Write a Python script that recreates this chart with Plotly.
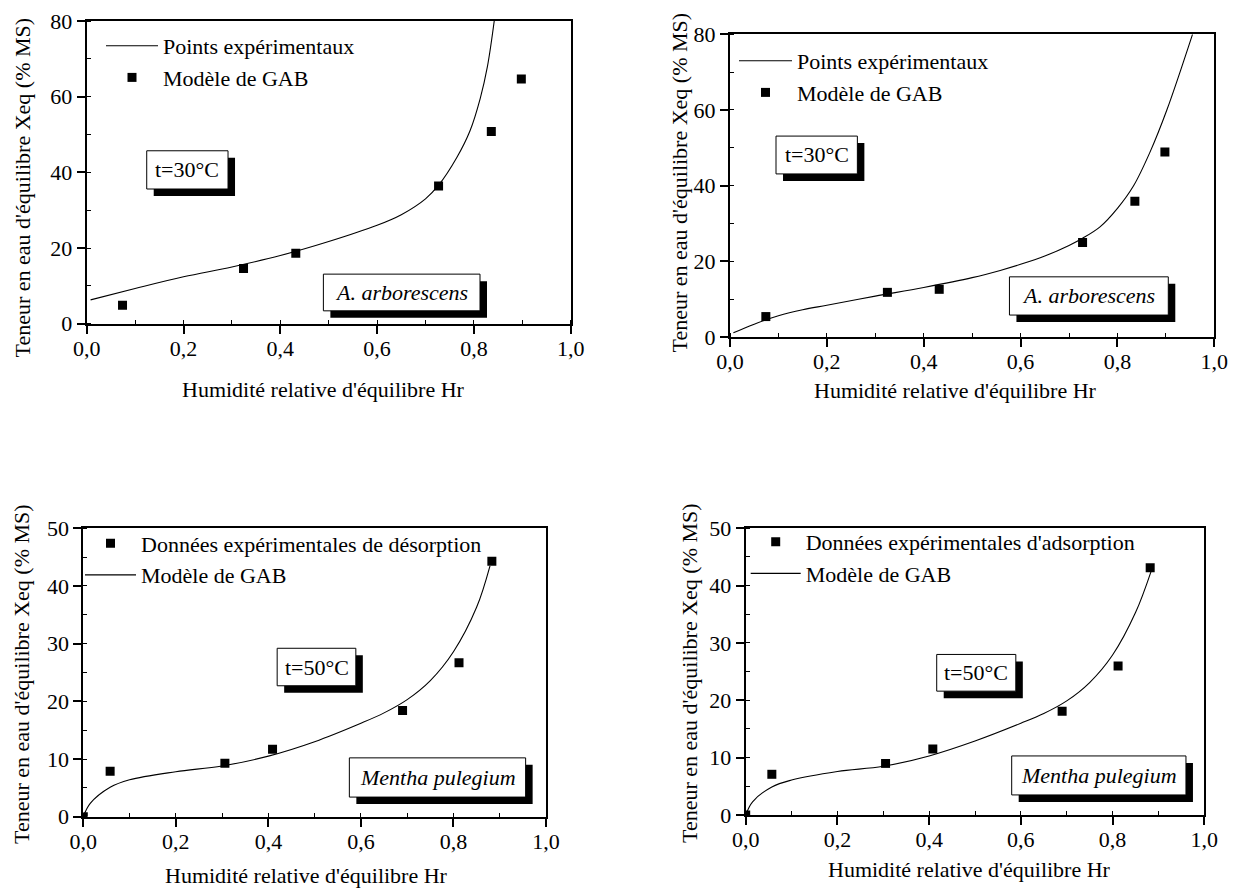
import plotly.graph_objects as go

W, H = 1245, 889
OFF = 8  # page offset of the figure inside the browser window
FONT = "Liberation Serif, Times New Roman, serif"
FS = 22

# ---------------- data ----------------
# Panel 1 : A. arborescens, t=30°C (first)
p1_pts_hr = [0.074, 0.324, 0.432, 0.727, 0.836, 0.898]
p1_pts_x = [4.9, 14.6, 18.6, 36.4, 50.8, 64.7]
p1_cur_hr = [0.008, 0.1, 0.2, 0.3, 0.4, 0.5, 0.6, 0.65, 0.7, 0.727, 0.765, 0.792, 0.813, 0.828, 0.842]
p1_cur_x = [6.3, 9.3, 12.4, 15.0, 18.0, 21.7, 26.0, 28.8, 33.0, 36.6, 44.0, 51.0, 59.5, 68.0, 80.0]

# Panel 2 : A. arborescens, t=30°C (second)
p2_pts_hr = [0.074, 0.325, 0.432, 0.728, 0.836, 0.898]
p2_pts_x = [5.4, 11.8, 12.6, 25.0, 35.9, 48.9]
p2_cur_hr = [0.007, 0.05, 0.1, 0.15, 0.2, 0.3, 0.4, 0.5, 0.558, 0.6, 0.65, 0.7, 0.728, 0.764, 0.8, 0.833, 0.867, 0.902, 0.955]
p2_cur_x = [1.1, 3.4, 5.6, 7.2, 8.4, 10.8, 13.1, 15.7, 17.6, 19.2, 21.4, 24.2, 26.1, 29.1, 34.0, 39.9, 48.8, 60.0, 80.0]

# Panel 3 : Mentha pulegium, désorption, t=50°C
p3_pts_hr = [0.0, 0.058, 0.306, 0.409, 0.690, 0.812, 0.883]
p3_pts_x = [0.0, 7.9, 9.25, 11.7, 18.4, 26.7, 44.3]
p3_cur_hr = [0.0, 0.015, 0.058, 0.1, 0.2, 0.3, 0.4, 0.5, 0.6, 0.65, 0.7, 0.75, 0.8, 0.85, 0.879]
p3_cur_x = [0.0, 2.3, 5.1, 6.4, 7.8, 8.8, 10.5, 13.0, 16.2, 18.0, 20.3, 23.6, 28.6, 36.3, 43.5]

# Panel 4 : Mentha pulegium, adsorption, t=50°C
p4_pts_hr = [0.0, 0.057, 0.305, 0.408, 0.690, 0.812, 0.882]
p4_pts_x = [0.0, 7.1, 9.0, 11.5, 18.1, 26.0, 43.1]
p4_cur_hr = [0.0, 0.015, 0.057, 0.1, 0.2, 0.3, 0.4, 0.5, 0.6, 0.65, 0.7, 0.75, 0.8, 0.85, 0.884]
p4_cur_x = [0.0, 2.3, 4.9, 6.1, 7.6, 8.5, 10.3, 12.9, 16.0, 17.7, 19.9, 23.1, 27.9, 35.3, 42.5]

x_title = "Humidité relative d'équilibre Hr"
y_title = "Teneur en eau d'équilibre Xeq (% MS)"

# ---------------- layout geometry (window pixels) ----------------
panels = [
    dict(xd=(86.7, 570.7), yd=(21.0, 323.7), yr=(0, 80), ydt=20,
         legend=dict(s=101, top=25.0, iw=52),
         xt=(323.5, 389), yt=(22, 187.5),
         boxes=[("t=30°C", (0.124, 0.292, 35.6, 45.7), False),
                ("A. arborescens", (0.489, 0.8126, 3.4, 13.1), True)]),
    dict(xd=(730.0, 1214.3), yd=(34.3, 337.0), yr=(0, 80), ydt=20,
         legend=dict(s=734, top=40.0, iw=53),
         xt=(955.5, 391), yt=(679, 182.5),
         boxes=[("t=30°C", (0.095, 0.263, 43.1, 53.1), False),
                ("A. arborescens", (0.577, 0.905, 5.8, 15.9), True)]),
    dict(xd=(83.3, 546.0), yd=(528.3, 816.7), yr=(0, 50), ydt=10,
         legend=dict(s=80, top=522.5, iw=51),
         xt=(306, 875), yt=(21, 674),
         boxes=[("t=50°C", (0.419, 0.589, 22.7, 29.2), False),
                ("Mentha pulegium", (0.575, 0.956, 3.4, 10.2), True)]),
    dict(xd=(745.7, 1204.3), yd=(528.3, 815.0), yr=(0, 50), ydt=10,
         legend=dict(s=745.7, top=521.0, iw=50),
         xt=(969.7, 869), yt=(689, 673),
         boxes=[("t=50°C", (0.4165, 0.589, 21.6, 28.0), False),
                ("Mentha pulegium", (0.58, 0.960, 3.5, 10.3), True)]),
]

series = [
    [("line", p1_cur_hr, p1_cur_x, "Points expérimentaux"),
     ("pts", p1_pts_hr, p1_pts_x, "Modèle de GAB")],
    [("line", p2_cur_hr, p2_cur_x, "Points expérimentaux"),
     ("pts", p2_pts_hr, p2_pts_x, "Modèle de GAB")],
    [("pts", p3_pts_hr, p3_pts_x, "Données expérimentales de désorption"),
     ("line", p3_cur_hr, p3_cur_x, "Modèle de GAB")],
    [("pts", p4_pts_hr, p4_pts_x, "Données expérimentales d'adsorption"),
     ("line", p4_cur_hr, p4_cur_x, "Modèle de GAB")],
]


def px_x(p):
    return (p - OFF) / W


def px_y(p):
    return 1 - (p - OFF) / H


fig = go.Figure()
shapes = []
annotations = []
layout = {}

SH = 7  # shadow offset px

for i, (pan, ser) in enumerate(zip(panels, series)):
    n = i + 1
    xa = "x" if n == 1 else f"x{n}"
    ya = "y" if n == 1 else f"y{n}"
    lg = "legend" if n == 1 else f"legend{n}"
    for kind, xs, ys, name in ser:
        if kind == "line":
            fig.add_trace(go.Scatter(x=xs, y=ys, mode="lines", name=name,
                                     line=dict(color="black", width=1.1, shape="spline", smoothing=1.0),
                                     xaxis=xa, yaxis=ya, legend=lg))
        else:
            fig.add_trace(go.Scatter(x=xs, y=ys, mode="markers", name=name,
                                     marker=dict(symbol="square", size=9, color="black"),
                                     xaxis=xa, yaxis=ya, legend=lg))
    x0p, x1p = pan["xd"]
    y0p, y1p = pan["yd"]
    axcommon = dict(showline=True, linecolor="black", linewidth=2, mirror=True,
                    ticks="outside", ticklen=8, tickwidth=1.5, tickcolor="black",
                    showgrid=False, zeroline=False, automargin=False,
                    tickfont=dict(family=FONT, size=FS, color="black"))
    layout["xaxis" if n == 1 else f"xaxis{n}"] = dict(
        domain=[px_x(x0p), px_x(x1p)], range=[0, 1], dtick=0.2, tick0=0, tickformat=".1f",
        anchor=ya, ticklabelstandoff=-4,
        minor=dict(ticks="inside", ticklen=4, dtick=0.1, tickcolor="black", tickwidth=1.2),
        **axcommon)
    layout["yaxis" if n == 1 else f"yaxis{n}"] = dict(
        domain=[px_y(y1p), px_y(y0p)], range=list(pan["yr"]), dtick=pan["ydt"], tick0=0,
        anchor=xa,
        minor=dict(ticks="inside", ticklen=4, dtick=pan["ydt"] / 2, tickcolor="black", tickwidth=1.2),
        **axcommon)
    L = pan["legend"]
    layout[lg] = dict(x=px_x(L["s"]), y=px_y(L["top"]), xanchor="left", yanchor="top",
                      bgcolor="rgba(0,0,0,0)", borderwidth=0, itemwidth=L["iw"],
                      font=dict(family=FONT, size=FS, color="black"), tracegroupgap=0)
    # axis titles
    annotations.append(dict(text=x_title, xref="paper", yref="paper",
                            x=px_x(pan["xt"][0]), y=px_y(pan["xt"][1]), showarrow=False,
                            xanchor="center", yanchor="middle",
                            font=dict(family=FONT, size=FS, color="black")))
    annotations.append(dict(text=y_title, xref="paper", yref="paper", textangle=-90,
                            x=px_x(pan["yt"][0]), y=px_y(pan["yt"][1]), showarrow=False,
                            xanchor="center", yanchor="middle",
                            font=dict(family=FONT, size=FS, color="black")))
    # label boxes with drop shadow
    dx = SH / (x1p - x0p) * 1.0
    dy = SH / (y1p - y0p) * (pan["yr"][1] - pan["yr"][0])
    for text, (bx0, bx1, by0, by1), ital in pan["boxes"]:
        shapes.append(dict(type="rect", xref=xa, yref=ya, x0=bx0 + dx, x1=bx1 + dx,
                           y0=by0 - dy, y1=by1 - dy, fillcolor="black", line=dict(width=0),
                           layer="above"))
        shapes.append(dict(type="rect", xref=xa, yref=ya, x0=bx0, x1=bx1, y0=by0, y1=by1,
                           fillcolor="white", line=dict(color="black", width=1), layer="above"))
        annotations.append(dict(text=f"<i>{text}</i>" if ital else text, xref=xa, yref=ya,
                                x=(bx0 + bx1) / 2, y=(by0 + by1) / 2, showarrow=False,
                                xanchor="center", yanchor="middle",
                                font=dict(family=FONT, size=FS, color="black")))

fig.update_layout(width=W, height=H,
                  margin=dict(l=0, r=0, t=0, b=0, pad=0, autoexpand=False),
                  paper_bgcolor="white", plot_bgcolor="white", separators=", ",
                  showlegend=True, shapes=shapes, annotations=annotations, **layout)

fig.write_html("out.html")
